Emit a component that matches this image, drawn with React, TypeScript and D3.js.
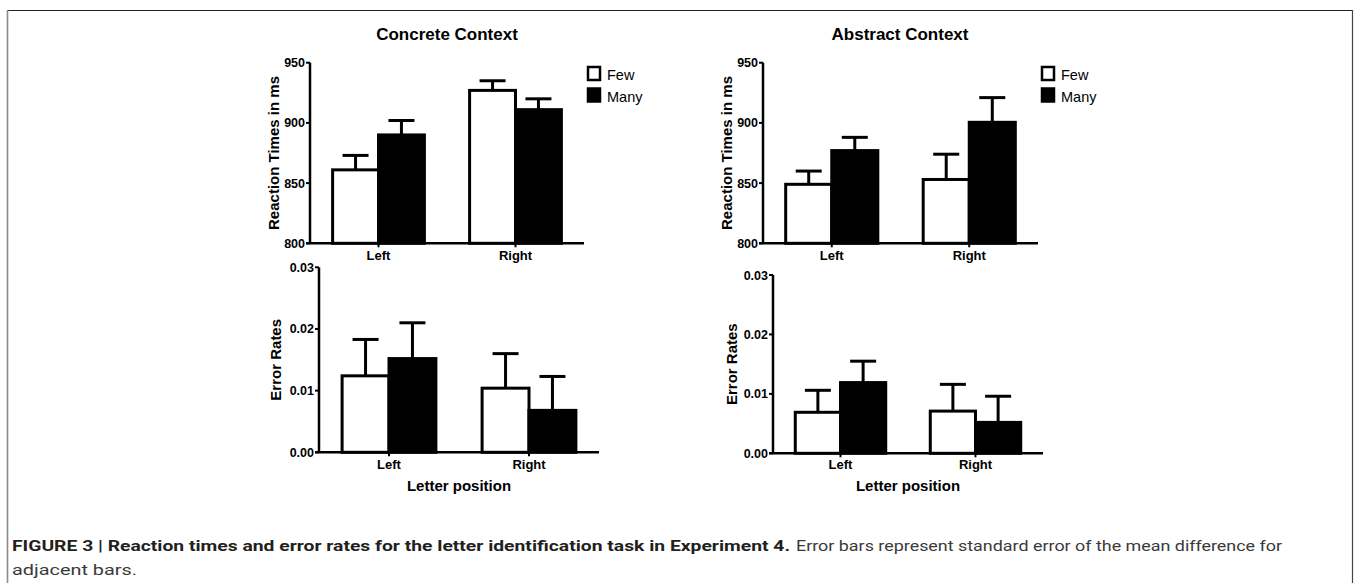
import React from "react";
import * as d3 from "d3";

const categories = ["Left", "Right"];
const seriesNames = ["Few", "Many"];

const concreteRTFew = [861, 927];
const concreteRTMany = [890, 911];
const concreteRTFewSE = [12, 8];
const concreteRTManySE = [12, 9];

const abstractRTFew = [849, 853];
const abstractRTMany = [877, 900.5];
const abstractRTFewSE = [11, 21];
const abstractRTManySE = [11, 20.5];

const concreteErrFew = [0.0124, 0.0104];
const concreteErrMany = [0.0152, 0.0068];
const concreteErrFewSE = [0.0059, 0.0056];
const concreteErrManySE = [0.0058, 0.0055];

const abstractErrFew = [0.0069, 0.0071];
const abstractErrMany = [0.0119, 0.0052];
const abstractErrFewSE = [0.0037, 0.0045];
const abstractErrManySE = [0.0036, 0.0044];

const rtTicks = [800, 850, 900, 950];
const errTicks = [0, 0.01, 0.02, 0.03];

const FONT = "'Liberation Sans', Arial, sans-serif";

type PanelProps = {
  x0: number; x1: number; yTop: number; yBot: number;
  domain: [number, number]; ticks: number[]; fmt: (v: number) => string;
  few: number[]; many: number[]; fewSE: number[]; manySE: number[];
  yLabel: string; title?: string; titleX?: number; legend?: [number, number];
  xTitle?: string; catY: number; yLabelX: number;
};

function Panel(p: PanelProps) {
  const x = d3.scaleBand<string>().domain(categories).range([p.x0, p.x1]);
  const y = d3.scaleLinear().domain(p.domain).range([p.yBot, p.yTop]);
  const inner = d3.scaleBand<string>().domain(seriesNames).range([0, x.bandwidth() * 0.67]);
  const off = (x.bandwidth() - inner.range()[1]) / 2;
  const vals = [p.few, p.many];
  const ses = [p.fewSE, p.manySE];
  const capW = 26;
  return (
    <g>
      {p.title && (
        <text x={p.titleX} y={39.5} textAnchor="middle" fontFamily={FONT} fontWeight="bold" fontSize={17}>{p.title}</text>
      )}
      {seriesNames.map((s, si) =>
        categories.map((c, ci) => {
          const bx = (x(c) as number) + off + (inner(s) as number);
          const bw = inner.bandwidth();
          const v = vals[si][ci];
          const top = y(v);
          const capY = y(v + ses[si][ci]);
          const cx = bx + bw / 2;
          return (
            <g key={s + c}>
              <line x1={cx} x2={cx} y1={top} y2={capY} stroke="#000" strokeWidth={3} />
              <line x1={cx - capW / 2} x2={cx + capW / 2} y1={capY} y2={capY} stroke="#000" strokeWidth={3} />
              <rect x={bx} y={top} width={bw} height={p.yBot - top} fill={si === 0 ? "#fff" : "#000"} stroke="#000" strokeWidth={3} />
            </g>
          );
        })
      )}
      <line x1={p.x0} x2={p.x0} y1={p.yTop} y2={p.yBot} stroke="#000" strokeWidth={2.5} />
      <line x1={p.x0 - 4} x2={p.x1} y1={p.yBot} y2={p.yBot} stroke="#000" strokeWidth={2.5} />
      {p.ticks.map((t) => (
        <g key={t}>
          <line x1={p.x0 - 4} x2={p.x0} y1={y(t)} y2={y(t)} stroke="#000" strokeWidth={2} />
          <text x={p.x0 - 5} y={y(t)} dy="0.36em" textAnchor="end" fontFamily={FONT} fontWeight="bold" fontSize={12.5}>{p.fmt(t)}</text>
        </g>
      ))}
      {categories.map((c) => {
        const cx = (x(c) as number) + x.bandwidth() / 2;
        return (
          <g key={c}>
            <line x1={cx} x2={cx} y1={p.yBot} y2={p.yBot + 4} stroke="#000" strokeWidth={2} />
            <text x={cx} y={p.catY} textAnchor="middle" fontFamily={FONT} fontWeight="bold" fontSize={13}>{c}</text>
          </g>
        );
      })}
      <text transform={`translate(${p.yLabelX},${(p.yTop + p.yBot) / 2}) rotate(-90)`} textAnchor="middle" fontFamily={FONT} fontWeight="bold" fontSize={15}>{p.yLabel}</text>
      {p.xTitle && (
        <text x={(p.x0 + p.x1) / 2} y={491} textAnchor="middle" fontFamily={FONT} fontWeight="bold" fontSize={15}>{p.xTitle}</text>
      )}
      {p.legend && seriesNames.map((s, i) => (
        <g key={s}>
          <rect x={p.legend![0]} y={p.legend![1] + i * 21.5} width={12} height={13} fill={i === 0 ? "#fff" : "#000"} stroke="#000" strokeWidth={2.5} />
          <text x={p.legend![0] + 19} y={p.legend![1] + 13 + i * 21.5} fontFamily={FONT} fontSize={14.5}>{s}</text>
        </g>
      ))}
    </g>
  );
}

export default function App() {
  const fRT = d3.format("d");
  const fErr = d3.format(".2f");
  return (
    <svg width={1354} height={583} style={{ position: "absolute", left: 0, top: 0, background: "#fff" }}>
      <rect x={0} y={0} width={1354} height={583} fill="#fff" />
      <line x1={7} x2={1353} y1={10.5} y2={10.5} stroke="#222" strokeWidth={1.2} />
      <line x1={7.5} x2={7.5} y1={10} y2={583} stroke="#8a8a8a" strokeWidth={1.6} />
      <line x1={1352.5} x2={1352.5} y1={10} y2={583} stroke="#444" strokeWidth={1.2} />

      <Panel x0={310} x1={584} yTop={62.7} yBot={243.3} domain={[800, 950]} ticks={rtTicks} fmt={fRT}
        few={concreteRTFew} many={concreteRTMany} fewSE={concreteRTFewSE} manySE={concreteRTManySE}
        yLabel="Reaction Times in ms" title="Concrete Context" titleX={447} legend={[588, 67]} catY={260} yLabelX={279} />
      <Panel x0={763} x1={1038} yTop={62.7} yBot={243.3} domain={[800, 950]} ticks={rtTicks} fmt={fRT}
        few={abstractRTFew} many={abstractRTMany} fewSE={abstractRTFewSE} manySE={abstractRTManySE}
        yLabel="Reaction Times in ms" title="Abstract Context" titleX={900} legend={[1042, 67]} catY={260} yLabelX={732} />
      <Panel x0={319} x1={599} yTop={267.3} yBot={452.3} domain={[0, 0.03]} ticks={errTicks} fmt={fErr}
        few={concreteErrFew} many={concreteErrMany} fewSE={concreteErrFewSE} manySE={concreteErrManySE}
        yLabel="Error Rates" xTitle="Letter position" catY={469} yLabelX={281} />
      <Panel x0={773} x1={1043} yTop={275} yBot={453.3} domain={[0, 0.03]} ticks={errTicks} fmt={fErr}
        few={abstractErrFew} many={abstractErrMany} fewSE={abstractErrFewSE} manySE={abstractErrManySE}
        yLabel="Error Rates" xTitle="Letter position" catY={469} yLabelX={737} />

      <text x={12} y={551} fontFamily="Roboto, sans-serif" fontWeight="bold" fontSize={15.5} fill="#231f20"
        textLength={778} lengthAdjust="spacingAndGlyphs">FIGURE 3 | Reaction times and error rates for the letter identification task in Experiment 4.</text>
      <text x={796} y={551} fontFamily="Roboto, sans-serif" fontSize={15.5} fill="#3a3a3a"
        textLength={486} lengthAdjust="spacingAndGlyphs">Error bars represent standard error of the mean difference for</text>
      <text x={12} y={575} fontFamily="Roboto, sans-serif" fontSize={15.5} fill="#3a3a3a"
        textLength={125} lengthAdjust="spacingAndGlyphs">adjacent bars.</text>
    </svg>
  );
}
